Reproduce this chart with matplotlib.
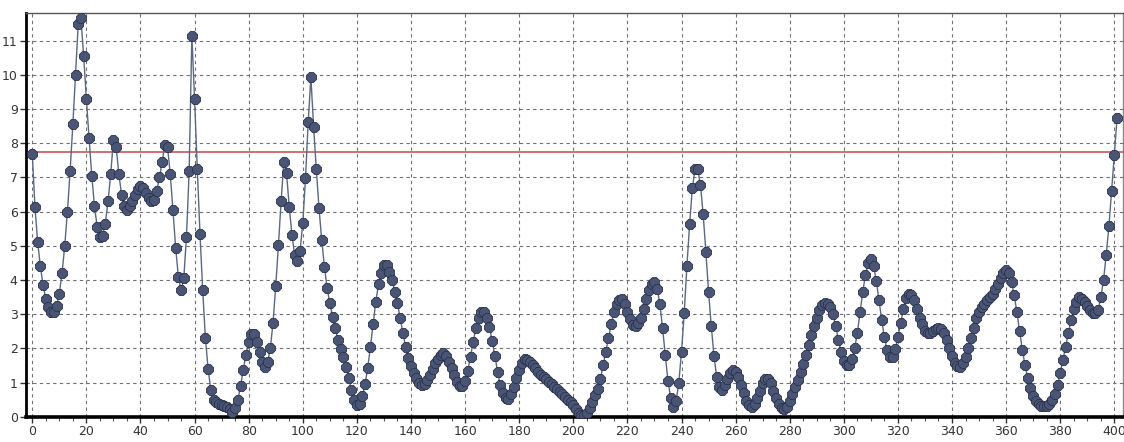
import numpy as np
import matplotlib
matplotlib.use("Agg")
import matplotlib.pyplot as plt
from matplotlib.ticker import MultipleLocator

# Measured signal, one sample per step
signal = [
    7.7, 6.13, 5.1, 4.4, 3.85, 3.45, 3.2, 3.05, 3.05, 3.25,
    3.6, 4.2, 5.0, 6.0, 7.2, 8.55, 10.0, 11.5, 11.65, 10.55,
    9.3, 8.15, 7.05, 6.15, 5.55, 5.25, 5.3, 5.65, 6.3, 7.1,
    8.1, 7.9, 7.1, 6.5, 6.15, 6.05, 6.15, 6.3, 6.5, 6.65,
    6.75, 6.7, 6.55, 6.4, 6.3, 6.35, 6.6, 7.0, 7.45, 7.95,
    7.9, 7.1, 6.05, 4.95, 4.1, 3.7, 4.05, 5.25, 7.2, 11.15,
    9.3, 7.25, 5.35, 3.7, 2.3, 1.4, 0.78, 0.5, 0.42, 0.38,
    0.35, 0.32, 0.28, 0.22, 0.15, 0.25, 0.5, 0.9, 1.38, 1.82,
    2.19, 2.42, 2.42, 2.19, 1.9, 1.61, 1.46, 1.61, 2.0, 2.75,
    3.82, 5.02, 6.32, 7.46, 7.12, 6.14, 5.32, 4.73, 4.56, 4.86,
    5.66, 6.97, 8.63, 9.93, 8.48, 7.24, 6.1, 5.17, 4.39, 3.76,
    3.32, 2.93, 2.59, 2.24, 1.97, 1.74, 1.46, 1.12, 0.78, 0.49,
    0.35, 0.38, 0.6, 0.95, 1.42, 2.05, 2.71, 3.37, 3.88, 4.21,
    4.44, 4.44, 4.24, 4.0, 3.66, 3.32, 2.88, 2.45, 2.05, 1.72,
    1.48, 1.28, 1.12, 1.0, 0.93, 0.97, 1.08, 1.22, 1.4, 1.56,
    1.7, 1.8, 1.85, 1.78, 1.6, 1.42, 1.22, 1.02, 0.9, 0.9,
    1.05, 1.35, 1.75, 2.2, 2.6, 2.88, 3.05, 3.07, 2.9, 2.63,
    2.22, 1.78, 1.32, 0.93, 0.68, 0.54, 0.52, 0.66, 0.88, 1.12,
    1.37, 1.56, 1.68, 1.66, 1.61, 1.51, 1.42, 1.32, 1.22, 1.15,
    1.09, 1.02, 0.95, 0.88, 0.8, 0.72, 0.65, 0.57, 0.5, 0.44,
    0.33, 0.22, 0.12, 0.05, 0.04, 0.1, 0.25, 0.44, 0.63, 0.82,
    1.1, 1.5, 1.9, 2.3, 2.7, 3.05, 3.3, 3.42, 3.44, 3.31,
    3.07, 2.85, 2.68, 2.64, 2.73, 2.9, 3.15, 3.45, 3.72, 3.88,
    3.95, 3.75, 3.3, 2.6, 1.8, 1.05, 0.55, 0.27, 0.45, 1.0,
    1.9, 3.04, 4.41, 5.64, 6.68, 7.24, 7.24, 6.78, 5.93, 4.83,
    3.66, 2.65, 1.78, 1.17, 0.86, 0.78, 0.92, 1.1, 1.29, 1.36,
    1.32, 1.15, 0.93, 0.7, 0.47, 0.34, 0.29, 0.37, 0.54, 0.76,
    0.98, 1.1, 1.1, 0.98, 0.76, 0.54, 0.37, 0.25, 0.22, 0.29,
    0.45, 0.65, 0.86, 1.07, 1.3, 1.55, 1.82, 2.1, 2.38, 2.65,
    2.9, 3.12, 3.26, 3.32, 3.3, 3.2, 3.0, 2.65, 2.25, 1.88,
    1.62, 1.52, 1.52, 1.7, 2.0, 2.45, 3.05, 3.65, 4.15, 4.5,
    4.62, 4.4, 3.98, 3.4, 2.84, 2.32, 1.95, 1.74, 1.74, 1.97,
    2.32, 2.73, 3.14, 3.46, 3.6, 3.56, 3.4, 3.15, 2.9, 2.7,
    2.52, 2.45, 2.45, 2.5, 2.57, 2.61, 2.58, 2.45, 2.25, 2.0,
    1.78, 1.58, 1.47, 1.46, 1.56, 1.76, 2.0, 2.3, 2.6, 2.88,
    3.07, 3.2, 3.3, 3.4, 3.5, 3.6, 3.73, 3.88, 4.05, 4.2,
    4.29, 4.2, 3.95, 3.55, 3.05, 2.5, 1.95, 1.5, 1.12, 0.84,
    0.62, 0.47, 0.37, 0.31, 0.3, 0.31, 0.37, 0.49, 0.66, 0.93,
    1.27, 1.66, 2.05, 2.44, 2.83, 3.14, 3.37, 3.49, 3.45, 3.37,
    3.25, 3.12, 3.04, 3.03, 3.12, 3.49, 4.0, 4.73, 5.58, 6.61,
    7.66, 8.73,
]
threshold = 7.75
x_ticks = list(range(0, 401, 20))
y_ticks = list(range(0, 12))

x = np.arange(len(signal))

fig = plt.figure(figsize=(11.24, 4.42), dpi=100)
ax = fig.add_axes([0.0231, 0.0572, 0.9760, 0.9141])

ax.plot(x, signal, color="#5a687e", lw=1.0, marker="8", ms=7.8,
        mfc="#4a5576", mec="#2a334c", mew=0.6, zorder=3)
ax.axhline(threshold, color="#c04a48", lw=1.1, zorder=2)

ax.set_xlim(-2.33, 403.2)
ax.set_ylim(0, 11.82)
ax.set_xticks(x_ticks)
ax.set_yticks(y_ticks)
ax.xaxis.set_minor_locator(MultipleLocator(5))

ax.grid(True, which="major", linestyle=(0, (3, 3)), color="#707070", lw=0.8, zorder=1)

ax.tick_params(axis="both", which="major", direction="out", length=4, width=1,
               color="#333333", labelsize=9, labelcolor="#333333", pad=2)
ax.tick_params(axis="x", which="minor", direction="out", length=3, width=0.8, color="#555555")

for side, lw, col in (("left", 2.0, "black"), ("bottom", 2.6, "black"),
                      ("top", 1.0, "#555555"), ("right", 1.0, "#888888")):
    ax.spines[side].set_linewidth(lw)
    ax.spines[side].set_color(col)

fig.savefig("out.png", dpi=100)
